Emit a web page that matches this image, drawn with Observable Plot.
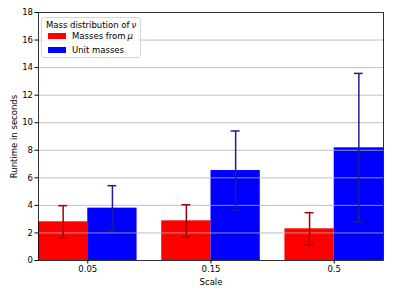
<!DOCTYPE html>
<html>
<head>
<meta charset="utf-8">
<script src="https://cdn.jsdelivr.net/npm/d3@7"></script>
<script src="https://cdn.jsdelivr.net/npm/@observablehq/plot@0.6"></script>
<style>
  html, body { margin: 0; padding: 0; background: #fff; }
  #wrap { position: relative; width: 394px; height: 296px; font-family: "DejaVu Sans", sans-serif; }
  #legend {
    position: absolute; left: 41px; top: 17px; width: 100px; height: 41px;
    border: 1px solid #d6d6d6; border-radius: 3px; background: rgba(255,255,255,0.8);
    font-size: 8.5px; color: #000; box-sizing: border-box;
  }
  #legend .title { position: absolute; left: 4px; top: 1px; height: 12px; line-height: 12px; white-space: nowrap; display: flex; align-items: center; }
  #legend .row { position: absolute; left: 6px; height: 12px; white-space: nowrap; display: flex; align-items: center; }
  #legend .sw { display: inline-block; width: 18px; height: 6px; margin-right: 6px; }
  #legend i { font-style: italic; margin-left: 2px; }
</style>
</head>
<body>
<div id="wrap"></div>
<script>
const categories = ["0.05", "0.15", "0.5"];
const seriesNames = ["Masses from μ", "Unit masses"];
const legendTitle = "Mass distribution of ν";
const seriesColors = ["#ff0000", "#0000ff"];
const errorColors = ["#a00000", "#1c1c9c"];
const massesFromMu = [2.81, 2.88, 2.30];
const massesFromMuErr = [1.17, 1.17, 1.17];
const unitMasses = [3.80, 6.53, 8.18];
const unitMassesErr = [1.63, 2.87, 5.40];
const yTicks = [0, 2, 4, 6, 8, 10, 12, 14, 16, 18];

const barWidth = 0.4;
const capHalf = 0.036;
const values = [massesFromMu, unitMasses];
const errors = [massesFromMuErr, unitMassesErr];
const rows = [];
categories.forEach((c, i) => {
  seriesNames.forEach((s, k) => {
    const x1 = i - barWidth + k * barWidth;
    rows.push({
      cat: c, series: s, k,
      x1, x2: x1 + barWidth, xc: x1 + barWidth / 2,
      value: values[k][i], err: errors[k][i]
    });
  });
});

const chart = Plot.plot({
  width: 394,
  height: 296,
  marginLeft: 38,
  marginRight: 11,
  marginTop: 12,
  marginBottom: 36,
  style: { fontFamily: "DejaVu Sans, sans-serif", fontSize: "8.5px", color: "#000", background: "#fff" },
  x: { domain: [-0.4, 2.4], ticks: [0, 1, 2], tickFormat: i => categories[i], label: "Scale", labelAnchor: "center", labelArrow: "none", labelOffset: 24, tickSize: 3.5, tickPadding: 2 },
  y: { domain: [0, 18], ticks: yTicks, label: "Runtime in seconds", labelAnchor: "center", labelArrow: "none", labelOffset: 28, tickSize: 3.5, tickPadding: 2 },
  marks: [
    Plot.rectY(rows, { x1: "x1", x2: "x2", y1: 0, y2: "value", fill: d => seriesColors[d.k] }),
    Plot.gridY(yTicks.filter(t => t > 0 && t < 18), { stroke: "#b0b0b0", strokeOpacity: 1, strokeWidth: 0.8 }),
    Plot.ruleX(rows, { x: "xc", y1: d => d.value - d.err, y2: d => d.value + d.err, stroke: d => errorColors[d.k], strokeWidth: 1.5 }),
    Plot.ruleY(rows, { y: d => d.value + d.err, x1: d => d.xc - capHalf, x2: d => d.xc + capHalf, stroke: d => errorColors[d.k], strokeWidth: 1.5 }),
    Plot.ruleY(rows, { y: d => d.value - d.err, x1: d => d.xc - capHalf, x2: d => d.xc + capHalf, stroke: d => errorColors[d.k], strokeWidth: 1.5 }),
    Plot.frame({ stroke: "#000", strokeWidth: 0.8 })
  ]
});

const wrap = document.getElementById("wrap");
wrap.appendChild(chart);

// italicise the trailing Greek symbol, as in the reference's math text
const fmt = s => s.replace(/ ([μν])$/, " <i>$1</i>");
const legend = document.createElement("div");
legend.id = "legend";
let html = `<div class="title">${fmt(legendTitle)}</div>`;
seriesNames.forEach((s, k) => {
  html += `<div class="row" style="top:${12 + k * 14}px"><span class="sw" style="background:${seriesColors[k]}"></span>${fmt(s)}</div>`;
});
legend.innerHTML = html;
wrap.appendChild(legend);
</script>
</body>
</html>
